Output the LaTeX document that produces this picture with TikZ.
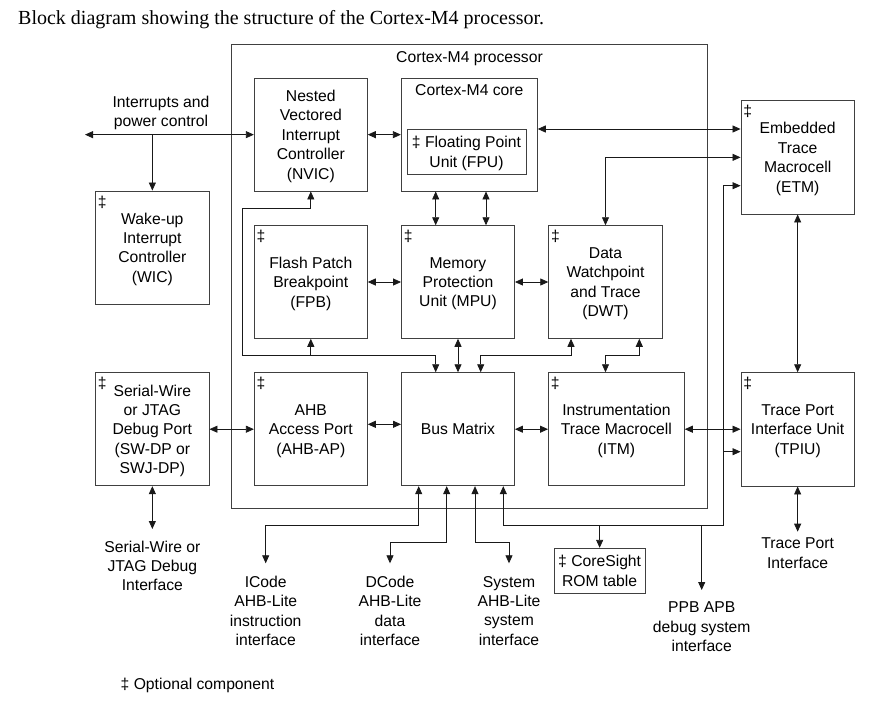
\documentclass[tikz,border=0pt]{standalone}
\usepackage{fontspec}
\setmainfont{Liberation Sans}
\newfontfamily\serifttl{Liberation Serif}
\usetikzlibrary{arrows.meta,calc}
\begin{document}
\begin{tikzpicture}[x=1pt,y=-1pt,
  every node/.style={font=\fontsize{15.7}{19.4}\selectfont, text=black},
  blk/.style={draw=black!75, line width=0.9pt, inner sep=0pt, align=center, minimum width=113pt, minimum height=113pt, text depth=0pt},
  dag/.style={label={[anchor=north west, inner sep=0pt, xshift=2.5pt, yshift=-5pt, text depth=]north west:‡}},
  lbl/.style={inner sep=0pt, align=center, anchor=north},
  con/.style={draw=black!90, line width=0.8pt},
  arr/.style={con, -{Triangle[length=8pt,width=7pt]}},
  darr/.style={con, {Triangle[length=8pt,width=7pt]}-{Triangle[length=8pt,width=7pt]}}
]
\useasboundingbox (0,0) rectangle (894,705);
\fill[white] (0,0) rectangle (894,705);

% title
\node[anchor=base west, inner sep=0pt, font=\serifttl\fontsize{20}{22}\selectfont] (title) at (18,24) {Block diagram showing the structure of the Cortex-M4 processor.};

% processor box
\node[blk, minimum width=475.6pt, minimum height=464.3pt] (proc) at (469.5,276.15) {};
\node[anchor=base, inner sep=0pt] (proctitle) at (469.5,62) {Cortex-M4 processor};

% blocks inside
\node[blk, minimum height=112.7pt] (nvic) at (310.8,134.65) {Nested\\Vectored\\Interrupt\\Controller\\(NVIC)};
\node[blk, minimum width=136pt, minimum height=112.7pt] (core) at (469.3,134.65) {};
\node[anchor=base, inner sep=0pt] (coretitle) at (469.3,95) {Cortex-M4 core};
\node[blk, minimum width=119pt, minimum height=45.3pt] (fpu) at (466.5,151.65) {‡ Floating Point\\Unit (FPU)};

\node[blk, dag, minimum height=112.6pt] (fpb) at (310.8,282) {Flash Patch\\Breakpoint\\(FPB)};
\node[blk, dag, minimum height=112.6pt] (mpu) at (458,282) {Memory\\Protection\\Unit (MPU)};
\node[blk, dag, minimum width=113.5pt, minimum height=112.6pt] (dwt) at (605.5,282) {Data\\Watchpoint\\and Trace\\(DWT)};

\node[blk, dag] (ahbap) at (310.8,429.2) {AHB\\Access Port\\(AHB-AP)};
\node[blk, text depth=] (bus) at (458,429.2) {Bus Matrix};
\node[blk, dag, minimum width=135.8pt] (itm) at (616.4,429.2) {Instrumentation\\Trace Macrocell\\(ITM)};

% right blocks
\node[blk, dag, minimum width=113.3pt, minimum height=113.3pt] (etm) at (797.65,157.35) {Embedded\\Trace\\Macrocell\\(ETM)};
\node[blk, dag, minimum width=113.3pt, minimum height=113.3pt] (tpiu) at (797.65,429.35) {Trace Port\\Interface Unit\\(TPIU)};

% left blocks
\node[blk, dag, minimum width=113.3pt] (wic) at (152.35,247.5) {Wake-up\\Interrupt\\Controller\\(WIC)};
\node[blk, dag, minimum width=113.3pt] (swj) at (152.35,429.2) {Serial-Wire\\or JTAG\\Debug Port\\(SW-DP or\\SWJ-DP)};

% ROM table
\node[blk, minimum width=90.7pt, minimum height=45pt] (rom) at (599.65,570.8) {‡ CoreSight\\ROM table};

% outside labels
\node[lbl] (intrlbl) at (161,95.5) {Interrupts and\\power control};
\node[lbl] (swjlbl) at (152.35,540.5) {Serial-Wire or\\JTAG Debug\\Interface};
\node[lbl] (icodelbl) at (265.7,576) {ICode\\AHB-Lite\\instruction\\interface};
\node[lbl] (dcodelbl) at (390,576) {DCode\\AHB-Lite\\data\\interface};
\node[lbl] (syslbl) at (509,576) {System\\AHB-Lite\\system\\interface};
\node[lbl] (ppblbl) at (701.7,601.7) {PPB APB\\debug system\\interface};
\node[lbl] (tplbl) at (797.65,537.7) {Trace Port\\Interface};
\node[anchor=base west, inner sep=0pt] (optlbl) at (120.5,689.3) {‡ Optional component};

% helper coordinates
\coordinate (intrL) at (85,0);
\coordinate (ya) at (0,129);
\coordinate (xa) at (435.7,0);
\coordinate (xb) at (486,0);
\coordinate (xL) at (242.7,0);
\coordinate (yn) at (0,208.3);
\coordinate (yh) at (0,355.5);
\coordinate (xc) at (480.7,0);
\coordinate (xd) at (571,0);
\coordinate (xe) at (639.3,0);
\coordinate (xf) at (605.5,0);
\coordinate (yb) at (0,424.3);
\coordinate (xg) at (418.7,0);
\coordinate (xh) at (446.7,0);
\coordinate (xi) at (475,0);
\coordinate (xj) at (503.3,0);
\coordinate (xk) at (723.3,0);
\coordinate (yc) at (0,525.7);
\coordinate (yd) at (0,542.3);
\coordinate (ye) at (0,185.7);
\coordinate (yf) at (0,451.7);
\coordinate (icodetip) at (265.7,563.3);
\coordinate (dcodetip) at (390,563.3);
\coordinate (systip) at (509,563.3);
\coordinate (ppbtip) at (701.7,590);
\coordinate (tptip) at (797.65,531.7);
\coordinate (swtip) at (152.35,529);

% connectors
\draw[darr] (intrL |- nvic.west) -- (nvic.west);
\draw[arr] (wic.north |- nvic.west) -- (wic.north);
\draw[darr] (nvic.east) -- (nvic.east -| core.west);
\draw[darr] (core.east |- ya) -- (etm.west |- ya);
\draw[darr] (xa |- core.south) -- (xa |- mpu.north);
\draw[darr] (xb |- core.south) -- (xb |- mpu.north);
\draw[darr] (fpb.east) -- (mpu.west);
\draw[darr] (mpu.east) -- (dwt.west);
\draw[darr] (etm.west) -| (dwt.north);
\draw[darr] (nvic.south) -- (nvic.south |- yn) -- (xL |- yn) -- (xL |- yh) -- (xa |- yh) -- (xa |- bus.north);
\draw[arr] (fpb.south |- yh) -- (fpb.south);
\draw[darr] (mpu.south) -- (bus.north);
\draw[darr] (xd |- dwt.south) -- (xd |- yh) -- (xc |- yh) -- (xc |- bus.north);
\draw[darr] (xe |- dwt.south) -- (xe |- yh) -- (xf |- yh) -- (xf |- itm.north);
\draw[darr] (ahbap.east |- yb) -- (bus.west |- yb);
\draw[darr] (swj.east) -- (ahbap.west);
\draw[darr] (bus.east) -- (itm.west);
\draw[darr] (itm.east) -- (itm.east -| tpiu.west);
\draw[darr] (xg |- bus.south) -- (xg |- yc) -| (icodetip);
\draw[darr] (xh |- bus.south) -- (xh |- yd) -| (dcodetip);
\draw[darr] (xi |- bus.south) -- (xi |- yd) -| (systip);
\draw[arr] (xj |- yc) -- (xj |- bus.south);
\draw[arr] (xj |- yc) -- (xk |- yc) -- (xk |- ye) -- (etm.west |- ye);
\draw[arr] (xk |- yf) -- (tpiu.west |- yf);
\draw[arr] (rom.north |- yc) -- (rom.north);
\draw[arr] (ppbtip |- yc) -- (ppbtip);
\draw[darr] (etm.south) -- (tpiu.north);
\draw[darr] (tpiu.south) -- (tptip);
\draw[darr] (swj.south) -- (swtip);
\end{tikzpicture}
\end{document}
